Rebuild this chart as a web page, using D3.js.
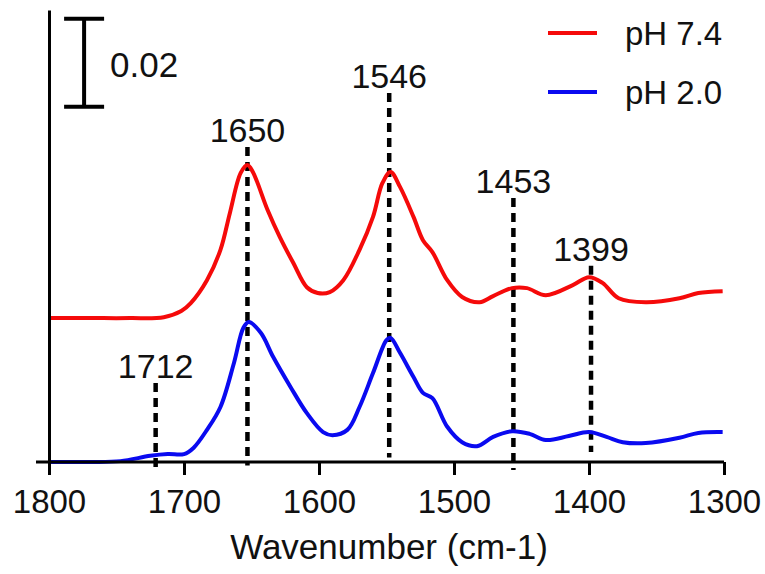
<!DOCTYPE html>
<html>
<head>
<meta charset="utf-8">
<script src="https://cdn.jsdelivr.net/npm/d3@7"></script>
<style>
  body { margin: 0; background: #fff; }
  svg { font-family: "Liberation Sans", Arial, sans-serif; }
</style>
</head>
<body>
<svg id="chart"></svg>
<script>
const width = 765;
const height = 574;

// wavenumbers (cm-1)
const wnRed = [1800, 1770, 1740, 1715, 1702, 1695, 1683, 1673, 1666, 1658, 1653, 1649, 1638, 1629, 1619, 1609, 1601, 1592, 1582, 1570, 1560, 1553, 1547, 1540, 1530, 1523, 1516, 1505, 1494, 1481, 1471, 1457, 1446, 1432, 1412, 1400, 1390, 1378, 1358, 1333, 1319, 1301];
const absRed = [0, 0, 0, 0.0002, 0.0016, 0.0034, 0.0086, 0.0155, 0.0239, 0.0330, 0.0348, 0.0332, 0.0245, 0.0184, 0.0125, 0.0070, 0.0057, 0.0059, 0.0086, 0.0155, 0.0230, 0.0307, 0.0332, 0.0298, 0.0230, 0.0177, 0.0150, 0.0086, 0.0048, 0.0036, 0.0050, 0.0068, 0.0068, 0.0052, 0.0075, 0.0093, 0.0080, 0.0045, 0.0036, 0.0045, 0.0057, 0.0061];

const wnBlue = [1800, 1769, 1747, 1725, 1712, 1700, 1693, 1683, 1673, 1663, 1656, 1652, 1643, 1634, 1621, 1609, 1597, 1590, 1579, 1570, 1560, 1550, 1547, 1540, 1530, 1523, 1516, 1505, 1494, 1483, 1471, 1457, 1444, 1432, 1415, 1400, 1387, 1375, 1358, 1333, 1319, 1301];
const absBlue = [0, 0, 0.0002, 0.0014, 0.0018, 0.0018, 0.0032, 0.0073, 0.0125, 0.0225, 0.0305, 0.0318, 0.0293, 0.0239, 0.0170, 0.0111, 0.0068, 0.0061, 0.0073, 0.0125, 0.0202, 0.0277, 0.0282, 0.0248, 0.0193, 0.0157, 0.0145, 0.0080, 0.0045, 0.0036, 0.0057, 0.0070, 0.0064, 0.0050, 0.0059, 0.0068, 0.0057, 0.0045, 0.0043, 0.0055, 0.0066, 0.0068];

const redOffset = 0.0327; // pH 7.4 trace is stacked above pH 2.0

const seriesNames = ["pH 7.4", "pH 2.0"];
const seriesColors = ["#f50a0a", "#0a0af0"];

// peak markers: label, position, label height, line bottom (absorbance units)
const peakLabels = ["1712", "1650", "1546", "1453", "1399"];
const peakPos = [1721, 1653, 1548, 1456, 1398.5];
const peakTop = [0.0191, 0.0727, 0.0850, 0.0611, 0.0457];
const peakBottom = [-0.0018, -0.0008, 0.0010, -0.0018, 0.0023];

const xTicks = [1800, 1700, 1600, 1500, 1400, 1300];
const scaleBarValue = 0.02;

const svg = d3.select("#chart")
  .attr("width", width)
  .attr("height", height);

const x = d3.scaleLinear().domain([1800, 1300]).range([49, 724]);
const y = d3.scaleLinear().domain([0, 0.1027]).range([462, 10]);

const line = d3.line()
  .x(d => x(d[0]))
  .y(d => y(d[1]))
  .curve(d3.curveCatmullRom.alpha(0.5));

const redData = wnRed.map((w, i) => [w, absRed[i] + redOffset]);
const blueData = wnBlue.map((w, i) => [w, absBlue[i]]);

// dashed peak markers
const peaks = peakLabels.map((l, i) => ({ label: l, pos: peakPos[i], top: peakTop[i], bottom: peakBottom[i] }));

svg.append("g").selectAll("line")
  .data(peaks)
  .join("line")
  .attr("x1", d => x(d.pos))
  .attr("x2", d => x(d.pos))
  .attr("y1", d => y(d.top) + 5)
  .attr("y2", d => y(d.bottom))
  .attr("stroke", "#000")
  .attr("stroke-width", 4.5)
  .attr("stroke-dasharray", "9,6");

svg.append("g").selectAll("text")
  .data(peaks)
  .join("text")
  .attr("x", d => x(d.pos))
  .attr("y", d => y(d.top))
  .attr("text-anchor", "middle")
  .attr("font-size", "34px")
  .attr("fill", "#111")
  .text(d => d.label);

// spectra
[redData, blueData].forEach((data, i) => {
  svg.append("path")
    .datum(data)
    .attr("fill", "none")
    .attr("stroke", seriesColors[i])
    .attr("stroke-width", 4)
    .attr("stroke-linejoin", "round")
    .attr("d", line);
});

// axes
const xAxis = d3.axisBottom(x)
  .tickValues(xTicks)
  .tickSize(13)
  .tickSizeOuter(0)
  .tickPadding(15)
  .tickFormat(d3.format("d"));

const gx = svg.append("g")
  .attr("transform", `translate(0,${y(0)})`)
  .call(xAxis);
gx.select(".domain").attr("d", `M36,0H${x(1300)}`).attr("stroke-width", 3);
gx.selectAll(".tick line").attr("stroke-width", 3);
gx.selectAll(".tick text")
  .attr("font-size", "33px")
  .attr("font-family", "Liberation Sans, Arial, sans-serif")
  .attr("fill", "#111");

const gy = svg.append("g")
  .attr("transform", `translate(${x(1800)},0)`)
  .call(d3.axisLeft(y).tickValues([]).tickSizeOuter(0));
gy.select(".domain").attr("stroke-width", 3);

svg.append("text")
  .attr("x", 389)
  .attr("y", 559)
  .attr("text-anchor", "middle")
  .attr("font-size", "35px")
  .attr("fill", "#111")
  .text("Wavenumber (cm-1)");

// scale bar
const barX = x(1774);
const barTop = y(0.1007);
const barBottom = y(0.1007 - scaleBarValue);
const bar = svg.append("g").attr("stroke", "#000").attr("stroke-width", 4);
bar.append("line").attr("x1", barX).attr("x2", barX).attr("y1", barTop).attr("y2", barBottom);
bar.append("line").attr("x1", barX - 20).attr("x2", barX + 20).attr("y1", barTop).attr("y2", barTop);
bar.append("line").attr("x1", barX - 20).attr("x2", barX + 20).attr("y1", barBottom).attr("y2", barBottom);
svg.append("text")
  .attr("x", barX + 26)
  .attr("y", 77)
  .attr("font-size", "35px")
  .attr("fill", "#111")
  .text(d3.format(".2f")(scaleBarValue));

// legend
const legend = svg.append("g").selectAll("g")
  .data(seriesNames)
  .join("g")
  .attr("transform", (d, i) => `translate(548,${33 + i * 59})`);
legend.append("line")
  .attr("x1", 0).attr("x2", 49)
  .attr("stroke", (d, i) => seriesColors[i])
  .attr("stroke-width", 4);
legend.append("text")
  .attr("x", 77)
  .attr("y", 12)
  .attr("font-size", "33px")
  .attr("fill", "#111")
  .text(d => d);
</script>
</body>
</html>
